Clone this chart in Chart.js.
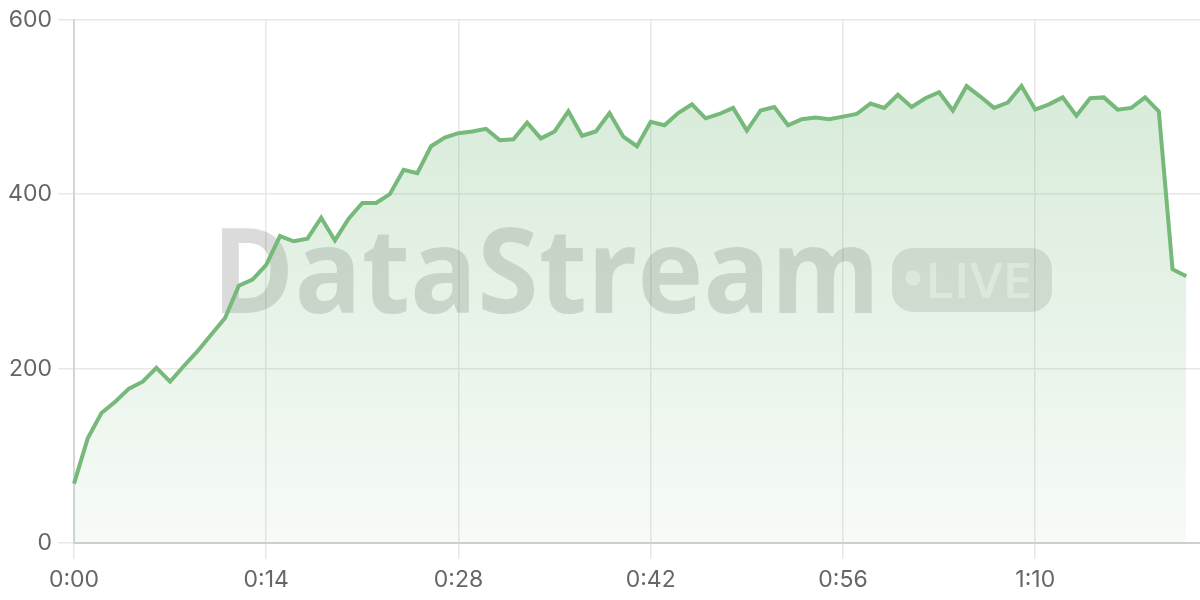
<!DOCTYPE html>
<html>
<head>
<meta charset="utf-8">
<script src="https://cdn.jsdelivr.net/npm/chart.js@4"></script>
<style>
  html,body{margin:0;padding:0;background:#fff;}
  #wrap{width:1200px;height:600px;position:relative;}
</style>
</head>
<body>
<div id="wrap"><canvas id="c"></canvas></div>
<script>
const timeLabels = ["0:00","0:01","0:02","0:03","0:04","0:05","0:06","0:07","0:08","0:09",
  "0:10","0:11","0:12","0:13","0:14","0:15","0:16","0:17","0:18","0:19",
  "0:20","0:21","0:22","0:23","0:24","0:25","0:26","0:27","0:28","0:29",
  "0:30","0:31","0:32","0:33","0:34","0:35","0:36","0:37","0:38","0:39",
  "0:40","0:41","0:42","0:43","0:44","0:45","0:46","0:47","0:48","0:49",
  "0:50","0:51","0:52","0:53","0:54","0:55","0:56","0:57","0:58","0:59",
  "1:00","1:01","1:02","1:03","1:04","1:05","1:06","1:07","1:08","1:09",
  "1:10","1:11","1:12","1:13","1:14","1:15","1:16","1:17","1:18","1:19",
  "1:20","1:21","1:22"];

const throughput = [68,120,149,162,177,185,201,185,203,220,
  239,258,295,302,319,352,346,349,373,347,
  372,390,390,400,428,424,455,465,470,472,
  475,462,463,482,464,472,495,467,472,493,
  466,455,483,479,493,503,487,492,499,473,
  496,500,479,486,488,486,489,492,504,499,
  514,500,510,517,496,524,512,499,505,524,
  497,503,511,490,510,511,497,499,511,495,
  314,306];

const yTicks = [0,200,400,600];

const watermark = {
  id: 'watermark',
  beforeDatasetsDraw(chart) {
    const ctx = chart.ctx;
    const a = chart.chartArea;
    const cx = (a.left + a.right) / 2;
    const cy = (a.top + a.bottom) / 2;
    ctx.save();
    ctx.font = 'bold 118px "Open Sans", sans-serif';
    ctx.textBaseline = 'alphabetic';
    ctx.textAlign = 'left';
    ctx.fillStyle = 'rgba(0,0,0,0.14)';
    const baseY = cy + 31.5;
    const startX = cx - 425;
    const endX = cx + 243;
    const w = ctx.measureText('DataStream').width;
    ctx.save();
    ctx.translate(startX, baseY);
    ctx.scale((endX - startX) / w, 1);
    ctx.fillText('DataStream', 0, 0);
    ctx.restore();
    // pill
    const px = cx + 255, py = baseY - 65, pw = 160, ph = 64, r = 21;
    ctx.beginPath();
    ctx.moveTo(px + r, py);
    ctx.lineTo(px + pw - r, py);
    ctx.arcTo(px + pw, py, px + pw, py + r, r);
    ctx.lineTo(px + pw, py + ph - r);
    ctx.arcTo(px + pw, py + ph, px + pw - r, py + ph, r);
    ctx.lineTo(px + r, py + ph);
    ctx.arcTo(px, py + ph, px, py + ph - r, r);
    ctx.lineTo(px, py + r);
    ctx.arcTo(px, py, px + r, py, r);
    ctx.closePath();
    ctx.fillStyle = 'rgba(0,0,0,0.11)';
    ctx.fill();
    ctx.fillStyle = 'rgba(255,255,255,0.55)';
    ctx.beginPath();
    ctx.arc(px + 21, py + 30, 7.5, 0, Math.PI * 2);
    ctx.fill();
    ctx.font = '600 48px "Open Sans", sans-serif';
    const lw = ctx.measureText('LIVE').width;
    ctx.save();
    ctx.translate(px + 33, py + 50);
    ctx.scale(107 / lw, 1);
    ctx.fillText('LIVE', 0, 0);
    ctx.restore();
    ctx.restore();
  }
};

const ctx = document.getElementById('c');
new Chart(ctx, {
  type: 'line',
  data: {
    labels: timeLabels,
    datasets: [{
      data: throughput,
      borderColor: '#76b97a',
      borderWidth: 4,
      pointRadius: 0,
      tension: 0,
      fill: 'origin',
      backgroundColor: (context) => {
        const chart = context.chart;
        const a = chart.chartArea;
        if (!a) return 'rgba(118,185,122,0.2)';
        const g = chart.ctx.createLinearGradient(0, a.top, 0, a.bottom);
        g.addColorStop(0, 'rgba(118,185,122,0.32)');
        g.addColorStop(1, 'rgba(118,185,122,0.06)');
        return g;
      }
    }]
  },
  options: {
    responsive: true,
    maintainAspectRatio: false,
    animation: false,
    layout: { padding: { top: 0, right: 0, left: 0, bottom: 0 } },
    plugins: { legend: { display: false }, tooltip: { enabled: false } },
    scales: {
      x: {
        offset: false,
        grid: { color: '#e8e8e8', tickLength: 16, lineWidth: 1.5 },
        border: { color: '#cfcfcf', width: 2 },
        ticks: {
          maxTicksLimit: 6, maxRotation: 0, autoSkip: true,
          color: '#666', padding: 7,
          font: { size: 23, family: 'Inter, sans-serif' }
        },
        afterFit(scale) { scale.height = 57; }
      },
      y: {
        min: 0, max: 600,
        afterBuildTicks(scale) { scale.ticks = yTicks.map(v => ({ value: v })); },
        grid: { color: '#e8e8e8', tickLength: 16, lineWidth: 1.5 },
        border: { color: '#d5d5d5', width: 2 },
        ticks: {
          color: '#666', padding: 6,
          font: { size: 23, family: 'Inter, sans-serif' }
        },
        afterFit(scale) { scale.width = 74; }
      }
    }
  },
  plugins: [watermark]
});
</script>
</body>
</html>
